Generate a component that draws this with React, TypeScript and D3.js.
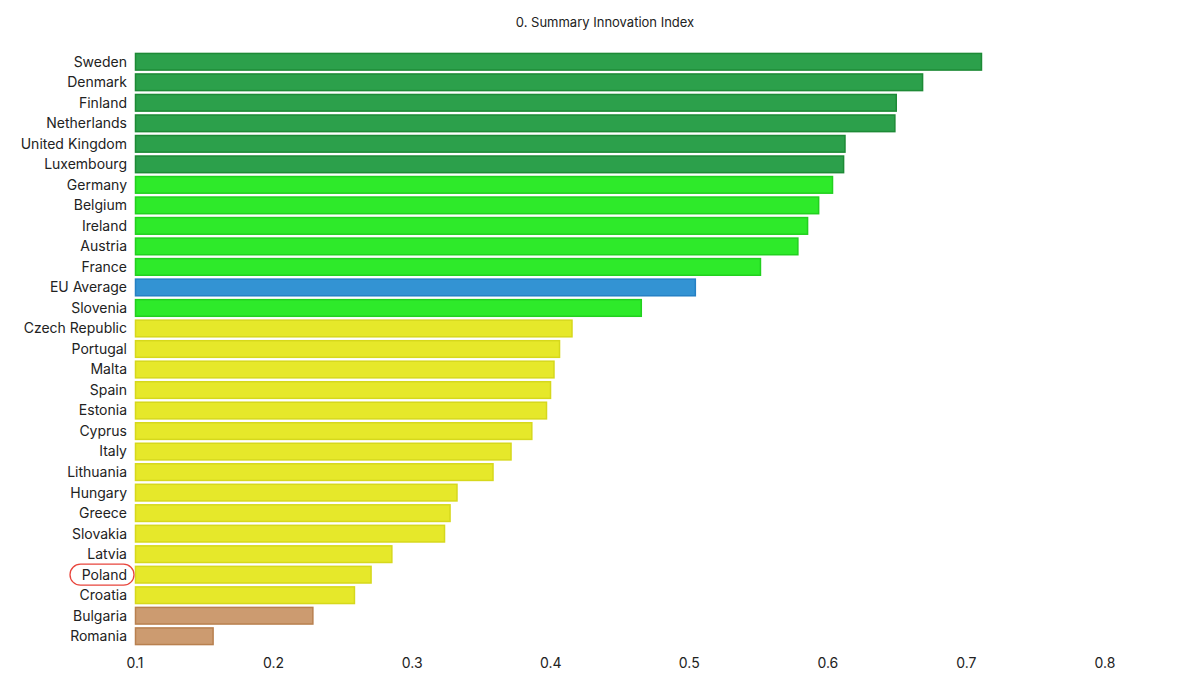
import React from "react";
import * as d3 from "d3";

const countries = ["Sweden","Denmark","Finland","Netherlands","United Kingdom","Luxembourg","Germany","Belgium","Ireland","Austria","France","EU Average","Slovenia","Czech Republic","Portugal","Malta","Spain","Estonia","Cyprus","Italy","Lithuania","Hungary","Greece","Slovakia","Latvia","Poland","Croatia","Bulgaria","Romania"];
const values = [0.7105,0.668,0.649,0.648,0.612,0.611,0.603,0.593,0.585,0.578,0.551,0.504,0.465,0.415,0.406,0.402,0.3995,0.3966,0.386,0.371,0.358,0.332,0.327,0.323,0.285,0.270,0.258,0.228,0.156];
const groups = ["leader","leader","leader","leader","leader","leader","strong","strong","strong","strong","strong","eu","strong","moderate","moderate","moderate","moderate","moderate","moderate","moderate","moderate","moderate","moderate","moderate","moderate","moderate","moderate","modest","modest"];
const ticks = [0.1,0.2,0.3,0.4,0.5,0.6,0.7,0.8];
const title = "0. Summary Innovation Index";
const highlighted = "Poland";

const fills: Record<string,string> = {leader:"#2ca04b",strong:"#2eea2a",eu:"#3393d3",moderate:"#e6e82a",modest:"#cc9b70"};
const strokes: Record<string,string> = {leader:"#1d8a36",strong:"#22d01f",eu:"#2580c4",moderate:"#d6d81c",modest:"#b8804f"};

export default function App() {
  const W = 1200, H = 698;
  const x = d3.scaleLinear().domain([0.1, 0.8]).range([135, 1105]);
  const y = d3.scaleBand().domain(countries).range([51.5, 646.5]).paddingInner(0.14).paddingOuter(0.07);
  const font = "Inter, 'Noto Sans', sans-serif";
  return (
    <svg width={W} height={H} style={{position:"absolute",left:0,top:0}} fontFamily={font}>
      <rect width={W} height={H} fill="#fff" />
      <text x={605} y={27} textAnchor="middle" fontSize={13} fill="#222">{title}</text>
      {countries.map((c, i) => {
        const g = groups[i];
        const yy = y(c)!;
        return (
          <g key={c}>
            <rect x={x(0.1)+0.5} y={yy+0.5} width={x(values[i]) - x(0.1)} height={y.bandwidth()-1}
              fill={fills[g]} stroke={strokes[g]} strokeWidth={1.5} />
            <text x={127} y={yy + y.bandwidth()/2} dy="0.35em" textAnchor="end" fontSize={14} fill="#222">{c}</text>
            {c === highlighted && (
              <rect x={70} y={yy + y.bandwidth()/2 - 10.5} width={64} height={21} rx={10.5} ry={10.5}
                fill="none" stroke="#e8453c" strokeWidth={1.3} />
            )}
          </g>
        );
      })}
      {ticks.map(t => (
        <text key={t} x={x(t)} y={663} dy="0.35em" textAnchor="middle" fontSize={14} fill="#222">{d3.format(".1f")(t)}</text>
      ))}
    </svg>
  );
}
